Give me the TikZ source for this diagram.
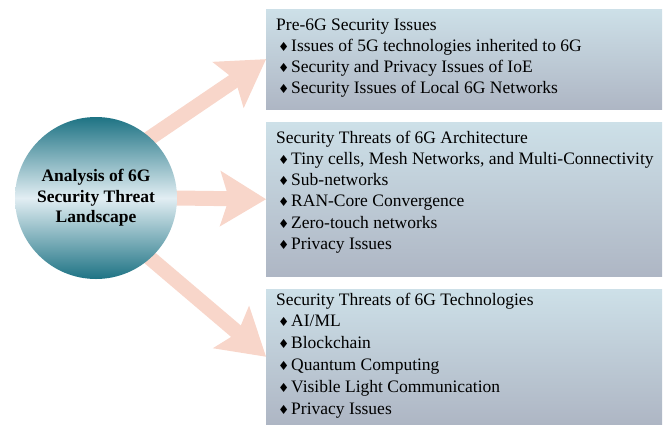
\documentclass[tikz,border=0pt]{standalone}
\usepackage{fontspec}
\setmainfont{Liberation Serif}
\newfontfamily\dejavu{DejaVu Sans}
\usetikzlibrary{arrows.meta,backgrounds}
\definecolor{arrowc}{RGB}{248,214,202}
\definecolor{boxtop}{RGB}{205,224,232}
\definecolor{boxbot}{RGB}{174,182,196}
\definecolor{tealdark}{RGB}{30,115,132}
\definecolor{teallight}{RGB}{226,238,243}
\newcommand{\dmd}{\makebox[13pt][l]{\dejavu\fontsize{12.5}{12.5}\selectfont\char"2666}}
\begin{document}
\begin{tikzpicture}[x=1pt,y=-1pt,
  box/.style={rectangle,inner sep=0pt,anchor=north west,minimum width=396pt,top color=boxtop,bottom color=boxbot},
  txt/.style={anchor=base west,inner sep=0pt,font=\fontsize{17.5}{21}\selectfont},
  hub/.style={circle,inner sep=0pt,minimum size=162pt,top color=tealdark,bottom color=tealdark,middle color=teallight,align=center,font=\fontsize{17.5}{20.5}\selectfont\bfseries},
  arr/.style={draw=arrowc,line width=15pt,shorten <=-8pt,-{Stealth[length=46pt,width=56pt,inset=9pt,line width=0pt]}}]
\useasboundingbox (0,0) rectangle (663,424);
\node[box,minimum height=100pt] (b1) at (266,9) {};
\node[box,minimum height=154pt] (b2) at (266,122) {};
\node[box,minimum height=135pt] (b3) at (266,289) {};
\node[hub] (c) at (96,198) {Analysis of 6G\\Security Threat\\Landscape};
\begin{scope}[on background layer]
\draw[arr] (c.48) -- (b1.west);
\draw[arr] (c.east) -- (b2.west);
\draw[arr] (c.-48) -- (b3.west);
\end{scope}
% box 1
\node[txt] (h1) at (276,30) {Pre-6G Security Issues};
\node[txt] (t11) at (278,51.1) {\dmd Issues of 5G technologies inherited to 6G};
\node[txt] (t12) at (278,72.2) {\dmd Security and Privacy Issues of IoE};
\node[txt] (t13) at (278,93.3) {\dmd Security Issues of Local 6G Networks};
% box 2
\node[txt] (h2) at (276,143.3) {Security Threats of 6G Architecture};
\node[txt] (t21) at (278,164.5) {\dmd Tiny cells, Mesh Networks, and Multi-Connectivity};
\node[txt] (t22) at (278,185.7) {\dmd Sub-networks};
\node[txt] (t23) at (278,206.9) {\dmd RAN-Core Convergence};
\node[txt] (t24) at (278,228.1) {\dmd Zero-touch networks};
\node[txt] (t25) at (278,249.3) {\dmd Privacy Issues};
% box 3
\node[txt] (h3) at (276,305) {Security Threats of 6G Technologies};
\node[txt] (t31) at (278,326.8) {\dmd AI/ML};
\node[txt] (t32) at (278,348.6) {\dmd Blockchain};
\node[txt] (t33) at (278,370.4) {\dmd Quantum Computing};
\node[txt] (t34) at (278,392.2) {\dmd Visible Light Communication};
\node[txt] (t35) at (278,414) {\dmd Privacy Issues};
\end{tikzpicture}
\end{document}
